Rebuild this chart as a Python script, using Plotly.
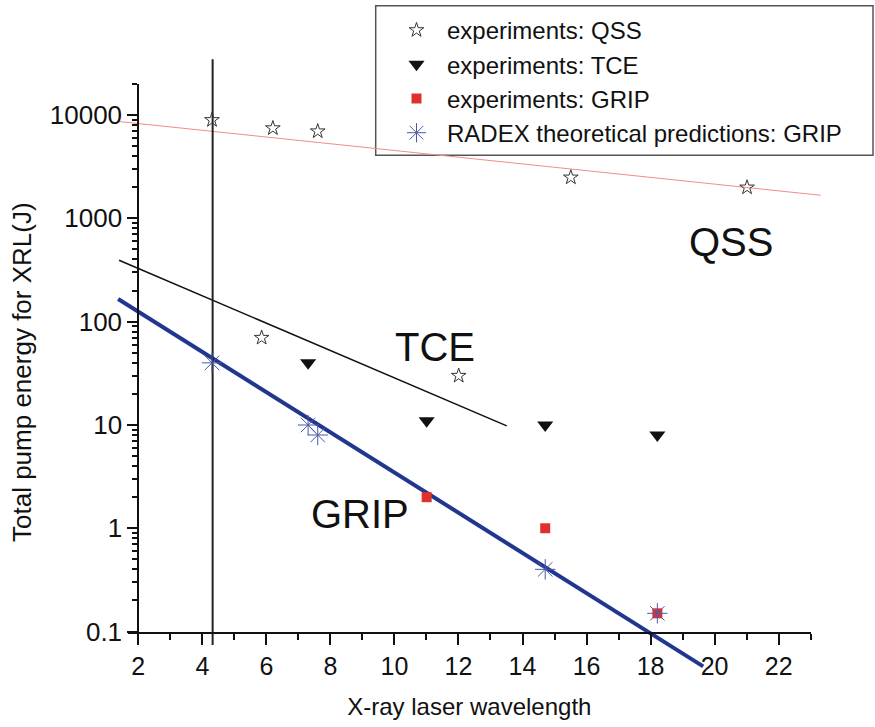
import plotly.graph_objects as go

# ---- measured data ----
qss_x = [4.3, 5.85, 6.2, 7.6, 12.0, 15.5, 21.0]
qss_y = [9000, 70, 7500, 7000, 30, 2500, 2000]

tce_x = [7.3, 11.0, 14.7, 18.2]
tce_y = [40, 11, 10, 8]

grip_x = [11.0, 14.7, 18.2]
grip_y = [2.0, 1.0, 0.15]

radex_x = [4.3, 7.3, 7.6, 14.7, 18.2]
radex_y = [40, 10, 8, 0.4, 0.15]

# fitted trend lines (end points)
qss_fit_x = [1.4, 23.3]
qss_fit_y = [8700, 1680]
tce_fit_x = [1.4, 13.5]
tce_fit_y = [395, 9.8]
grip_fit_x = [1.37, 19.63]
grip_fit_y = [166, 0.046]

# vertical marker line
vline_x = [4.32, 4.32]
vline_y = [35000, 0.074]

y_tick_vals = [0.1, 1, 10, 100, 1000, 10000]
y_tick_text = ["0.1", "1", "10", "100", "1000", "10000"]
y_minor_vals = [m * d for d in [0.1, 1, 10, 100, 1000] for m in range(2, 10)] + [20000]

FONT = "Liberation Sans, Arial, Helvetica, sans-serif"
INK = "#111111"

# plot-area geometry (pixels)
W, H = 875, 727
L, R, T, B = 110, 45, 50, 52
PW, PH = W - L - R, H - T - B

def px_x(p):
    return (p - L) / PW

def px_y(p):
    return (H - B - p) / PH

fig = go.Figure()

fig.add_trace(go.Scatter(x=qss_fit_x, y=qss_fit_y, mode="lines",
                         line=dict(color="#f08c8c", width=1), showlegend=False,
                         hoverinfo="skip"))
fig.add_trace(go.Scatter(x=tce_fit_x, y=tce_fit_y, mode="lines",
                         line=dict(color=INK, width=1.5), showlegend=False,
                         hoverinfo="skip"))
fig.add_trace(go.Scatter(x=grip_fit_x, y=grip_fit_y, mode="lines",
                         line=dict(color="#21368f", width=4), showlegend=False,
                         hoverinfo="skip"))
fig.add_trace(go.Scatter(x=vline_x, y=vline_y, mode="lines",
                         line=dict(color="#222222", width=2), showlegend=False,
                         hoverinfo="skip"))

fig.add_trace(go.Scatter(x=qss_x, y=qss_y, mode="markers", name="experiments: QSS",
                         marker=dict(symbol="star-open", size=11, color="#333333",
                                     line=dict(width=1, color="#333333")),
                         cliponaxis=False))
fig.add_trace(go.Scatter(x=tce_x, y=tce_y, mode="markers", name="experiments: TCE",
                         marker=dict(symbol="triangle-down", size=14, color=INK),
                         cliponaxis=False))
fig.add_trace(go.Scatter(x=grip_x, y=grip_y, mode="markers", name="experiments: GRIP",
                         marker=dict(symbol="square", size=10, color="#e0302c"),
                         cliponaxis=False))
fig.add_trace(go.Scatter(x=radex_x, y=radex_y, mode="markers",
                         name="RADEX theoretical predictions: GRIP",
                         marker=dict(symbol="asterisk-open", size=17, color="#4a5aa8",
                                     line=dict(width=1, color="#4a5aa8")),
                         cliponaxis=False))

# empty trace that carries the visible axes
fig.add_trace(go.Scatter(x=[], y=[], xaxis="x2", yaxis="y2", showlegend=False,
                         hoverinfo="skip"))

# pixel mapping: x=2 at 138.3 px, 32.04 px/unit; y=0.1 at 631.5 px, 103.24 px/decade
x_lo = 2 - (138.3 - L) / 32.04
x_hi = 2 + (W - R - 138.3) / 32.04
y_lo = -1 - (H - B - 631.5) / 103.24
y_hi = -1 + (631.5 - T) / 103.24

fig.update_layout(
    width=W, height=H,
    margin=dict(l=L, r=R, t=T, b=B, autoexpand=False),
    paper_bgcolor="white",
    plot_bgcolor="rgba(0,0,0,0)",
    font=dict(family=FONT, color=INK, size=24),
    xaxis=dict(domain=[0, 1], range=[x_lo, x_hi], visible=False, anchor="y"),
    yaxis=dict(domain=[0, 1], type="log", range=[y_lo, y_hi], visible=False, anchor="x"),
    xaxis2=dict(
        domain=[px_x(128), px_x(810.7)],
        range=[2 - (138.3 - 128) / 32.04, 23.001],
        anchor="y2",
        showline=True, linecolor=INK, linewidth=2,
        ticks="outside", ticklen=11, tickwidth=2, tickcolor=INK,
        tick0=0, dtick=2,
        minor=dict(ticks="outside", ticklen=6, tickwidth=2, tickcolor=INK, dtick=1),
        showgrid=False, zeroline=False,
        tickfont=dict(size=25, family=FONT, color=INK),
        title=dict(text="X-ray laser wavelength", font=dict(size=24, family=FONT, color=INK),
                   standoff=20),
        automargin=False,
    ),
    yaxis2=dict(
        domain=[px_y(631.5), px_y(84)],
        type="log", range=[-1, 4.30103],
        anchor="free", position=px_x(138.3),
        showline=True, linecolor=INK, linewidth=2,
        ticks="outside", ticklen=10, tickwidth=2, tickcolor=INK,
        tickmode="array", tickvals=y_tick_vals, ticktext=y_tick_text,
        minor=dict(ticks="outside", ticklen=5, tickwidth=2, tickcolor=INK,
                   tickmode="array", tickvals=y_minor_vals),
        showgrid=False, zeroline=False,
        tickfont=dict(size=26, family=FONT, color=INK),
        automargin=False,
    ),
    legend=dict(
        x=px_x(386), y=px_y(8), xanchor="left", yanchor="top",
        bgcolor="rgba(0,0,0,0)", borderwidth=0,
        font=dict(size=24, family=FONT, color=INK),
        itemwidth=51,
        tracegroupgap=0,
    ),
    showlegend=True,
)

# vertical axis title
fig.add_annotation(text="Total pump energy for XRL(J)", xref="paper", yref="paper",
                   x=px_x(22), y=px_y(372), textangle=-90, showarrow=False,
                   xanchor="center", yanchor="middle",
                   font=dict(size=26, family=FONT, color=INK))

# legend frame
fig.add_shape(type="rect", xref="paper", yref="paper",
              x0=px_x(375.7), x1=px_x(873), y0=px_y(155.3), y1=px_y(5.7),
              line=dict(color="#555555", width=1.5), fillcolor="rgba(0,0,0,0)", layer="below")

# region labels
for txt, xv, yv in [("QSS", 20.5, 2.773), ("TCE", 11.26, 1.756), ("GRIP", 8.92, 0.138)]:
    fig.add_annotation(text=txt, x=xv, y=yv, xref="x", yref="y", showarrow=False,
                       font=dict(size=40, family=FONT, color=INK),
                       xanchor="center", yanchor="middle")

fig.write_html("out.html")
